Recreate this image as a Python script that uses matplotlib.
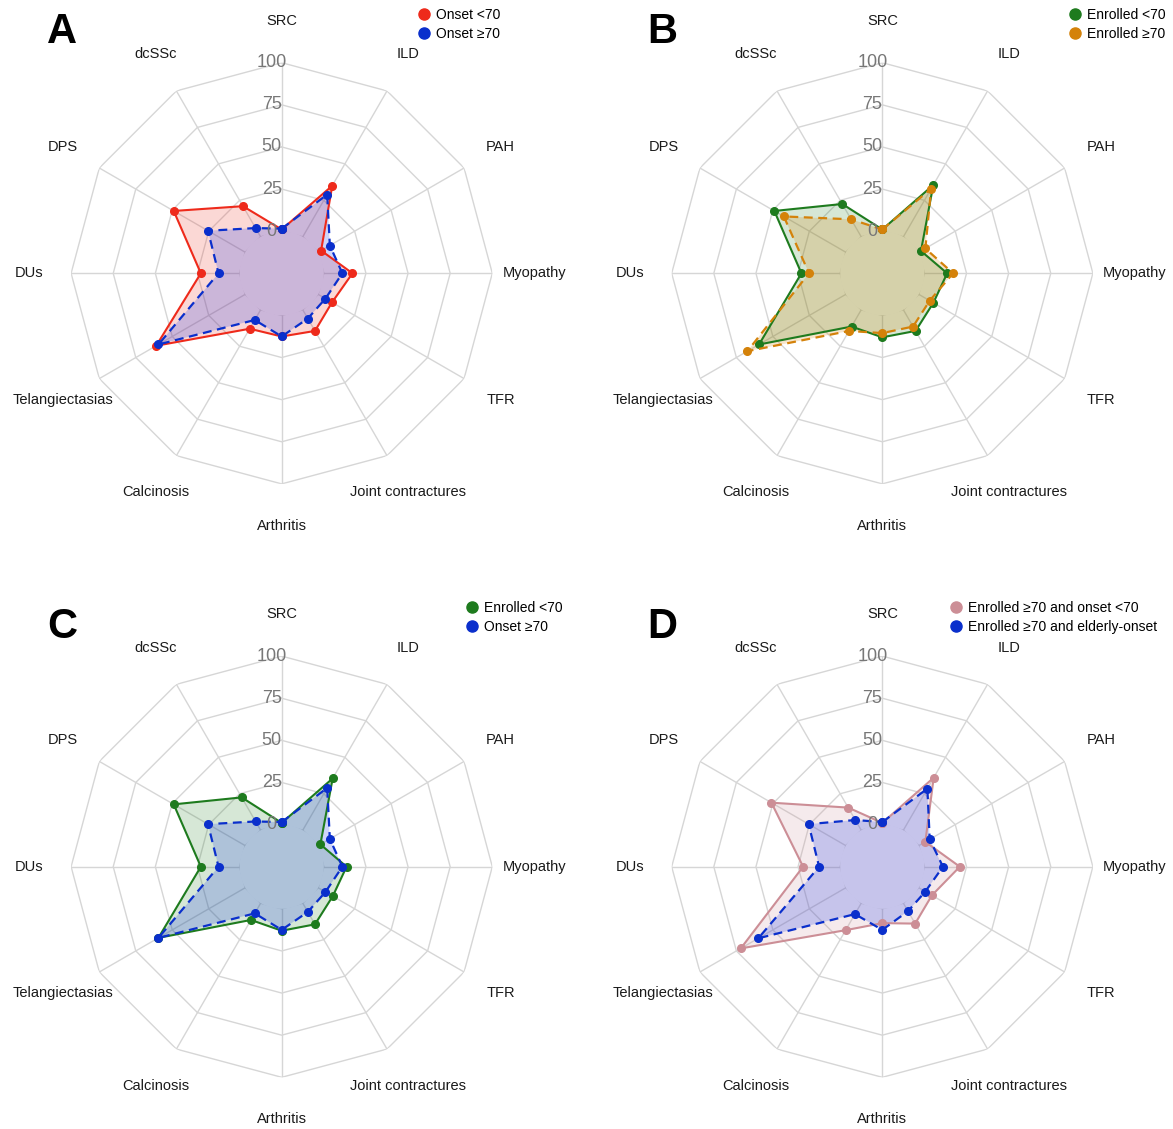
import numpy as np
import matplotlib
matplotlib.use("Agg")
import matplotlib.pyplot as plt
from matplotlib.lines import Line2D

plt.rcParams['font.family'] = ['Liberation Sans', 'DejaVu Sans']

categories = ["SRC", "ILD", "PAH", "Myopathy", "TFR", "Joint contractures",
              "Arthritis", "Calcinosis", "Telangiectasias", "DUs", "DPS", "dcSSc"]
radial_ticks = [0, 25, 50, 75, 100]

onset_lt70 = [1, 35, 2, 17, 9.5, 14.5, 12.5, 13, 61, 23, 49, 21]
onset_ge70 = [1.5, 29, 8, 11, 5, 6, 12.5, 7, 59.5, 12.5, 25.5, 6]
enrolled_lt70 = [1, 35.5, 1.5, 13.5, 10, 14.5, 13, 11.5, 59.5, 23, 49, 22.5]
enrolled_ge70 = [1, 33, 4.5, 17, 7.5, 11.5, 10.5, 14.5, 67.5, 18.5, 42.5, 12]
enr_ge70_onset_lt70 = [1, 36, 4.5, 21, 9, 14, 8.5, 18.5, 72, 22, 51, 15.5]
enr_ge70_elderly = [1.5, 28.5, 7.5, 11, 4.5, 5.5, 12.5, 7.5, 60, 12.5, 25.5, 7]

RED = "#EE2A1B"
BLUE = "#0A2FCC"
GREEN = "#1E7B1E"
ORANGE = "#D4820A"
PINK = "#CC8E96"
GRID = "#D6D6D6"

panels = [
    ("A", [("Onset <70", onset_lt70, RED), ("Onset \u226570", onset_ge70, BLUE)]),
    ("B", [("Enrolled <70", enrolled_lt70, GREEN), ("Enrolled \u226570", enrolled_ge70, ORANGE)]),
    ("C", [("Enrolled <70", enrolled_lt70, GREEN), ("Onset \u226570", onset_ge70, BLUE)]),
    ("D", [("Enrolled \u226570 and onset <70", enr_ge70_onset_lt70, PINK),
           ("Enrolled \u226570 and elderly-onset", enr_ge70_elderly, BLUE)]),
]

W, H = 1173, 1129
fig = plt.figure(figsize=(W / 100, H / 100), dpi=100)
fig.patch.set_facecolor("white")

centers = [(281.7, 273.3), (882.3, 273.3), (281.7, 866.7), (882.3, 866.7)]
legend_pos = [(423, 17), (1074, 17), (471, 610), (955, 610)]
R = 210.6

n = len(categories)
theta = np.arange(n) * 2 * np.pi / n
theta_c = np.append(theta, theta[0])

for (letter, series), (cx, cy), (lx, ly) in zip(panels, centers, legend_pos):
    ax = fig.add_axes([(cx - R) / W, (H - cy - R) / H, 2 * R / W, 2 * R / H],
                      projection='polar')
    ax.set_theta_zero_location('N')
    ax.set_theta_direction(-1)
    ax.set_ylim(0, 100)
    ax.set_rorigin(-25)
    ax.axis('off')

    for lv in radial_ticks:
        ax.plot(theta_c, [lv] * (n + 1), color=GRID, lw=1.0, zorder=1)
    for th in theta:
        ax.plot([th, th], [0, 100], color=GRID, lw=1.0, zorder=1)

    for i, (lab, vals, col) in enumerate(series):
        v = np.append(vals, vals[0])
        fill_col = "#1A3AE8" if col == BLUE else col
        ax.fill(theta_c, v, color=fill_col, alpha=0.18 if i == 0 else 0.21, lw=0,
                zorder=2 + i, clip_on=False)
    for i, (lab, vals, col) in enumerate(series):
        v = np.append(vals, vals[0])
        if i == 0:
            ax.plot(theta_c, v, color=col, lw=1.5, ls='-', marker='o', ms=5.5,
                    zorder=5 + i, clip_on=False)
        else:
            ax.plot(theta_c, v, color=col, lw=1.6, ls=(0, (4, 2.5)), marker='o', ms=5.5,
                    zorder=5 + i, clip_on=False)

    for lv in radial_ticks:
        ax.annotate(str(lv), xy=(0, lv), xytext=(-10, 0), textcoords='offset pixels',
                    ha='center', va='center', fontsize=13, color='#777777', zorder=8)

    for th, cat in zip(theta, categories):
        ax.text(th, 125, cat, ha='center', va='center', fontsize=10.5, color='#1a1a1a')

    handles = [Line2D([0], [0], marker='o', ls='none', color=col, markersize=8)
               for (_, _, col) in series]
    labels = [lab for (lab, _, _) in series]
    fig.legend(handles, labels, loc='upper left',
               bbox_to_anchor=((lx - 6) / W, 1 - (ly - 9) / H),
               frameon=False, fontsize=10, handlelength=1.0, handletextpad=0.4,
               borderpad=0, borderaxespad=0, labelspacing=0.35)

    lxp = 62 if letter in "AC" else 662
    lyp = 32 if letter in "AB" else 627
    fig.text(lxp / W, 1 - lyp / H, letter, fontsize=30, fontweight='bold',
             ha='center', va='center')

fig.savefig("out.png", dpi=100)
